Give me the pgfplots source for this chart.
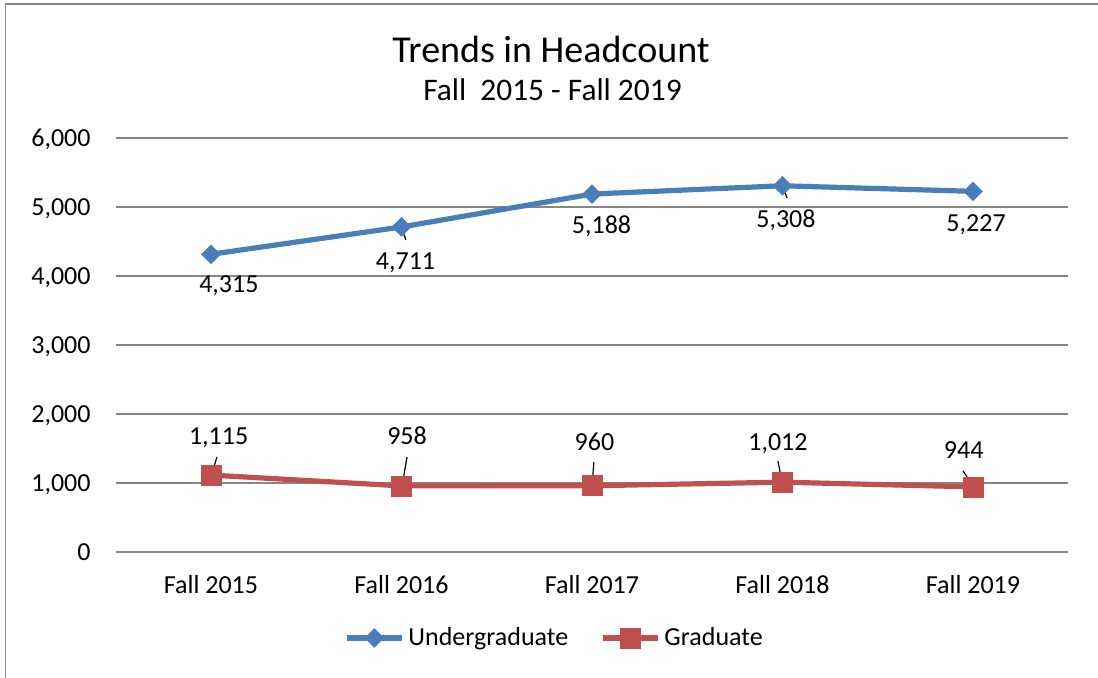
\documentclass[border=0pt]{standalone}
\usepackage{pgfplots}
\pgfplotsset{compat=1.18}
\usepackage{fontspec}
\setmainfont{Carlito}
\definecolor{ugblue}{HTML}{4A7EBB}
\definecolor{gradred}{HTML}{C0504D}
\definecolor{gridgray}{HTML}{878787}
\begin{document}
\begin{tikzpicture}
\useasboundingbox (0,0) rectangle (549pt,338.5pt);
\draw[gridgray, line width=0.8pt] (2.65pt,-2pt) -- (2.65pt,336.5pt) -- (552pt,336.5pt);
\node[anchor=base, font=\fontsize{19}{22}\selectfont] at (275.5pt,307.5pt) {Trends in Headcount};
\node[anchor=base, font=\fontsize{15.7}{18}\selectfont] at (276.25pt,288.5pt) {Fall\ \ 2015 - Fall 2019};
\begin{axis}[
  at={(57.875pt,62.5pt)}, anchor=south west,
  scale only axis, width=476.25pt, height=207pt,
  xmin=-0.5, xmax=4.5, ymin=0, ymax=6000,
  xtick={0,1,2,3,4},
  xticklabels={Fall 2015,Fall 2016,Fall 2017,Fall 2018,Fall 2019},
  ytick={0,1000,2000,3000,4000,5000,6000},
  yticklabels={0,{1,000},{2,000},{3,000},{4,000},{5,000},{6,000}},
  axis line style={draw=none},
  major tick length=0pt,
  ymajorgrids,
  major grid style={gridgray, line width=0.8pt},
  tick label style={font=\fontsize{13}{15}\selectfont, inner sep=0pt},
  xticklabel style={anchor=base, yshift=-20.5pt},
  yticklabel style={anchor=base east, yshift=-4.2pt, xshift=-12.4pt},
  clip=false,
  legend columns=2,
  legend style={at={(axis description cs:0.4617,-0.2077)}, anchor=center,
    draw=none, fill=none, inner sep=0pt,
    font=\fontsize{13}{15}\selectfont,
    nodes={inner sep=2pt},
    /tikz/every even column/.append style={column sep=14pt}},
  legend image code/.code={\draw[mark repeat=2,mark phase=2] plot coordinates {(0pt,0pt) (13.75pt,0pt) (27.5pt,0pt)};},
]
\addplot[ugblue, line width=2.6pt, mark=square*, mark size=3.3pt,
  mark options={rotate=45, line width=0.3pt, fill=ugblue, draw=ugblue}]
  coordinates {(0,4315) (1,4711) (2,5188) (3,5308) (4,5227)};
\addlegendentry{Undergraduate}
\addplot[gradred, line width=2.6pt, mark=square*, mark size=5pt,
  mark options={line width=0.3pt, fill=gradred, draw=gradred}]
  coordinates {(0,1115) (1,958) (2,960) (3,1012) (4,944)};
\addlegendentry{Graduate}
% leader lines
\draw[black, line width=0.6pt] (axis cs:1.0,4710) -- (axis cs:1.023,4522);
\draw[black, line width=0.6pt] (axis cs:3.003,5290) -- (axis cs:3.024,5130);
\draw[black, line width=0.6pt] (axis cs:0.031,1377) -- (axis cs:0.005,1130);
\draw[black, line width=0.6pt] (axis cs:1.029,1377) -- (axis cs:1.003,957);
\draw[black, line width=0.6pt] (axis cs:2.01,1304) -- (axis cs:2.0,971);
\draw[black, line width=0.6pt] (axis cs:2.976,1319) -- (axis cs:2.997,1029);
\draw[black, line width=0.6pt] (axis cs:3.948,1174) -- (axis cs:4.0,957);
% data labels
\begin{scope}[every node/.style={anchor=base, inner sep=0pt, font=\fontsize{13}{15}\selectfont}]
\node at (axis cs:0.094,3754) {4,315};
\node at (axis cs:1.021,4101) {4,711};
\node at (axis cs:2.05,4609) {5,188};
\node at (axis cs:3.018,4696) {5,308};
\node at (axis cs:4.016,4638) {5,227};
\node at (axis cs:0.04,1551) {1,115};
\node at (axis cs:1.029,1551) {958};
\node at (axis cs:2.013,1468) {960};
\node at (axis cs:2.976,1478) {1,012};
\node at (axis cs:3.951,1348) {944};
\end{scope}
\end{axis}
\end{tikzpicture}
\end{document}
